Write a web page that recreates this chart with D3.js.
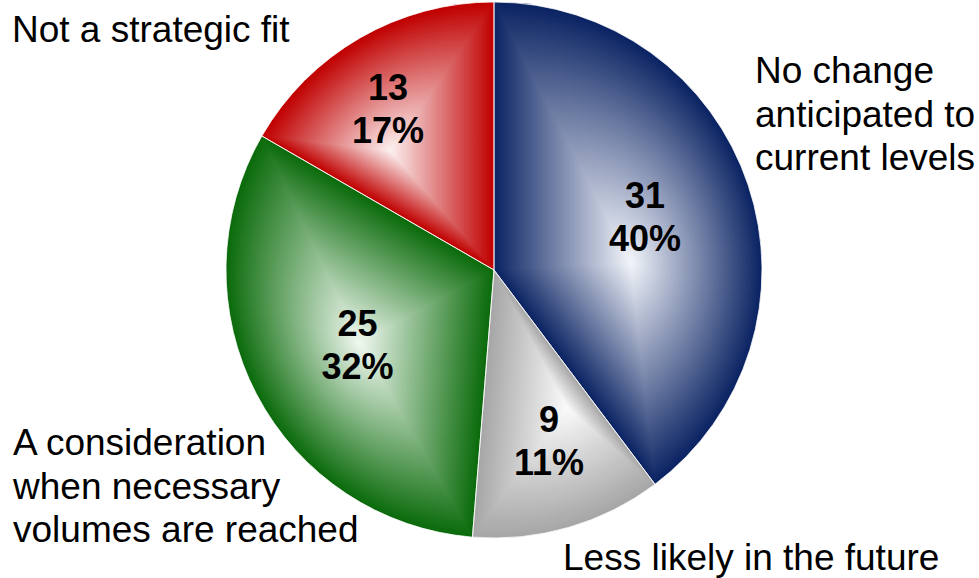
<!DOCTYPE html>
<html>
<head>
<meta charset="utf-8">
<script src="https://cdn.jsdelivr.net/npm/d3@7/dist/d3.min.js"></script>
<style>
  html, body { margin: 0; padding: 0; background: #ffffff; }
  svg { display: block; }
  text { font-family: "Liberation Sans", Arial, Helvetica, sans-serif; fill: #000; }
</style>
</head>
<body>
<svg id="chart" width="979" height="578"></svg>
<script>
// Survey answers, clockwise from twelve o'clock
const categories = [
  "No change anticipated to current levels",
  "Less likely in the future",
  "A consideration when necessary volumes are reached",
  "Not a strategic fit"
];
const counts = [31, 9, 25, 13];
const percentLabels = ["40%", "11%", "32%", "17%"];

// Category labels as they wrap beside the pie
const categoryLines = [
  ["No change", "anticipated to", "current levels"],
  ["Less likely in the future"],
  ["A consideration", "when necessary", "volumes are reached"],
  ["Not a strategic fit"]
];

// Slice shading: light core fading to a saturated rim
const edgeColors = ["#0b2463", "#a6a6a6", "#0b6b0b", "#c00000"];
const coreColors = ["#f4f6fb", "#fbfbfb", "#f2f9f2", "#fdf2f2"];

// Layout
const width = 979, height = 578;
const cx = 494, cy = 270, radius = 268;
// where each slice's shading is brightest: [angle in degrees, fraction of radius]
const glowPolar = [[86.7, 0.51], [152, 0.58], [241.6, 0.57], [319, 0.59]];
// value label anchors: [angle in degrees, fraction of radius]
const valuePolar = [[75, 0.583], [163.3, 0.713], [237.3, 0.605], [324.5, 0.681]];
// category label anchors (left edge, first baseline), relative to the pie centre
const categoryOffset = [[261, -187], [69, 300], [-481, 185], [-482, -228]];

const svg = d3.select("#chart");
const g = svg.append("g").attr("transform", `translate(${cx},${cy})`);

const pie = d3.pie().sort(null).value(d => d);
const arcs = pie(counts);
const arc = d3.arc().innerRadius(0).outerRadius(radius);

const polar = (deg, frac) => {
  const a = deg * Math.PI / 180;
  return [Math.sin(a) * radius * frac, -Math.cos(a) * radius * frac];
};

// Each slice is painted as a stack of copies shrunk toward its glow point,
// giving a path gradient that follows the slice outline.
const steps = 90;
const slices = g.selectAll("g.slice").data(arcs).join("g").attr("class", "slice");
slices.each(function (d, i) {
  const [gx, gy] = polar(glowPolar[i][0], glowPolar[i][1]);
  const color = d3.interpolateRgb(coreColors[i], edgeColors[i]);
  const layers = d3.range(steps, 0, -1).map(k => k / steps);
  d3.select(this).selectAll("path")
    .data(layers)
    .join("path")
    .attr("d", arc(d))
    .attr("transform", s => `translate(${gx},${gy}) scale(${s}) translate(${-gx},${-gy})`)
    .attr("fill", s => color(s));
});

// thin light seams between slices
g.selectAll("path.seam").data(arcs).join("path")
  .attr("class", "seam")
  .attr("d", arc)
  .attr("fill", "none")
  .attr("stroke", "#ffffff")
  .attr("stroke-opacity", 0.75)
  .attr("stroke-width", 1);

// value labels: count and share
const valueLabels = g.selectAll("text.value").data(arcs).join("text")
  .attr("class", "value")
  .attr("text-anchor", "middle")
  .style("font-weight", "bold")
  .style("font-size", "36px")
  .attr("transform", (d, i) => {
    const [x, y] = polar(valuePolar[i][0], valuePolar[i][1]);
    return `translate(${x},${y})`;
  });
valueLabels.append("tspan").attr("x", 0).attr("y", -21.5).text(d => d.data);
valueLabels.append("tspan").attr("x", 0).attr("y", 21.5).text((d, i) => percentLabels[i]);

// category labels
const catLabels = g.selectAll("text.category").data(categories).join("text")
  .attr("class", "category")
  .style("font-size", "37px")
  .attr("transform", (d, i) => `translate(${categoryOffset[i][0]},${categoryOffset[i][1]})`);
catLabels.each(function (d, i) {
  d3.select(this).selectAll("tspan").data(categoryLines[i]).join("tspan")
    .attr("x", 0)
    .attr("y", (line, j) => j * 43.5)
    .text(line => line);
});
</script>
</body>
</html>
